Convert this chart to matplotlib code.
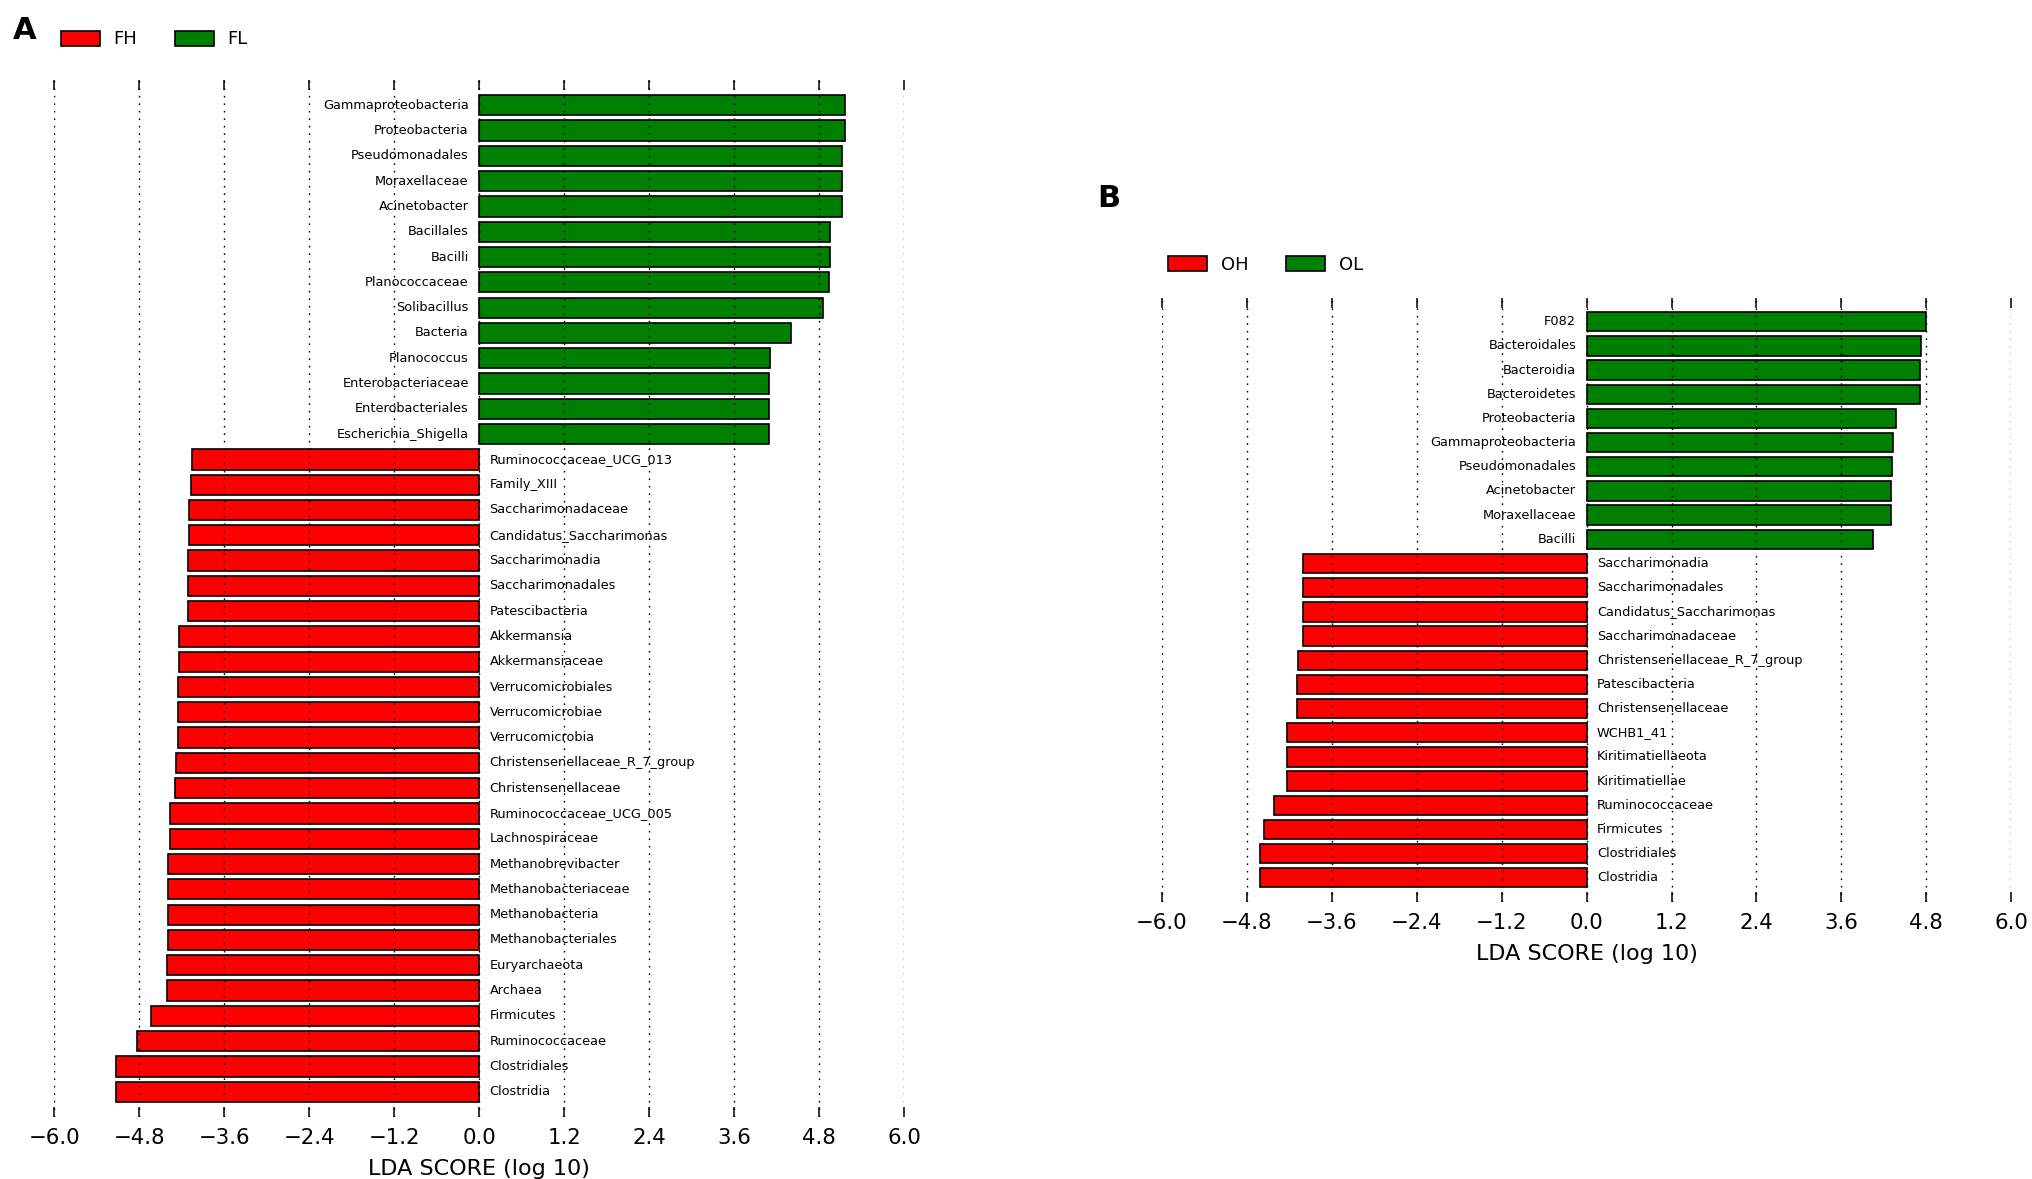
import matplotlib
matplotlib.use("Agg")
import matplotlib.pyplot as plt
from matplotlib.patches import Patch
import numpy as np

# ---------------- data ----------------
names_A = ["Gammaproteobacteria", "Proteobacteria", "Pseudomonadales", "Moraxellaceae",
           "Acinetobacter", "Bacillales", "Bacilli", "Planococcaceae", "Solibacillus",
           "Bacteria", "Planococcus", "Enterobacteriaceae", "Enterobacteriales",
           "Escherichia_Shigella",
           "Ruminococcaceae_UCG_013", "Family_XIII", "Saccharimonadaceae",
           "Candidatus_Saccharimonas", "Saccharimonadia", "Saccharimonadales",
           "Patescibacteria", "Akkermansia", "Akkermansiaceae", "Verrucomicrobiales",
           "Verrucomicrobiae", "Verrucomicrobia", "Christensenellaceae_R_7_group",
           "Christensenellaceae", "Ruminococcaceae_UCG_005", "Lachnospiraceae",
           "Methanobrevibacter", "Methanobacteriaceae", "Methanobacteria",
           "Methanobacteriales", "Euryarchaeota", "Archaea", "Firmicutes",
           "Ruminococcaceae", "Clostridiales", "Clostridia"]
lda_A = [5.17, 5.16, 5.12, 5.12, 5.12, 4.96, 4.96, 4.94, 4.85, 4.41, 4.11, 4.09, 4.09, 4.09,
         -4.06, -4.07, -4.10, -4.10, -4.11, -4.11, -4.11, -4.24, -4.24, -4.25, -4.25, -4.25,
         -4.28, -4.29, -4.36, -4.37, -4.39, -4.40, -4.40, -4.40, -4.41, -4.41, -4.64,
         -4.83, -5.13, -5.13]
groups_A = ["FH", "FL"]

names_B = ["F082", "Bacteroidales", "Bacteroidia", "Bacteroidetes", "Proteobacteria",
           "Gammaproteobacteria", "Pseudomonadales", "Acinetobacter", "Moraxellaceae",
           "Bacilli",
           "Saccharimonadia", "Saccharimonadales", "Candidatus_Saccharimonas",
           "Saccharimonadaceae", "Christensenellaceae_R_7_group", "Patescibacteria",
           "Christensenellaceae", "WCHB1_41", "Kiritimatiellaeota", "Kiritimatiellae",
           "Ruminococcaceae", "Firmicutes", "Clostridiales", "Clostridia"]
lda_B = [4.80, 4.73, 4.71, 4.71, 4.37, 4.33, 4.31, 4.30, 4.30, 4.05,
         -4.01, -4.01, -4.01, -4.01, -4.08, -4.09, -4.09, -4.23, -4.23, -4.23,
         -4.41, -4.55, -4.61, -4.61]
groups_B = ["OH", "OL"]

xticks = [-6.0, -4.8, -3.6, -2.4, -1.2, 0.0, 1.2, 2.4, 3.6, 4.8, 6.0]
xlabel = "LDA SCORE (log 10)"

# ---------------- style ----------------
RED = (1.0, 0.0, 0.0)
GREEN = (0.0, 0.5, 0.0)
W, H = 2033, 1179
DPI = 100

fig = plt.figure(figsize=(W / DPI, H / DPI), dpi=DPI)
fig.patch.set_facecolor("white")


def px_axes(left, top, right, bottom):
    return fig.add_axes([left / W, 1 - bottom / H, (right - left) / W, (bottom - top) / H])


def draw_panel(ax, names, values, groups):
    n = len(names)
    ypos = np.arange(n)[::-1]
    vals = np.array(values)
    colors = [GREEN if v > 0 else RED for v in vals]
    ax.barh(ypos, vals, height=0.8, color=colors, edgecolor="black", linewidth=1.2,
            zorder=1)
    for y, v, name in zip(ypos, vals, names):
        if v > 0:
            ax.annotate(name, xy=(0, y), xytext=(-7.5, 0), textcoords="offset points",
                        ha="right", va="center", fontsize=9.3, zorder=3)
        else:
            ax.annotate(name, xy=(0, y), xytext=(7.5, 0), textcoords="offset points",
                        ha="left", va="center", fontsize=9.3, zorder=3)
    ax.set_xlim(xticks[0], xticks[-1])
    ax.set_ylim(-1, n)
    ax.set_xticks(xticks)
    ax.set_xticklabels(["%.1f" % t if t >= 0 else "\u2212%.1f" % abs(t) for t in xticks],
                       fontsize=15.3)
    ax.set_yticks([])
    for s in ax.spines.values():
        s.set_visible(False)
    ax.tick_params(axis="x", which="major", direction="in", length=7, width=1.1,
                   top=True, bottom=True, pad=8, color="black")
    ax.xaxis.grid(True, color="black", linestyle=(0, (1.2, 4.2)), linewidth=1.0,
                  zorder=2)
    ax.set_axisbelow(False)
    ax.set_xlabel(xlabel, fontsize=16, labelpad=7.5)
    ax.patch.set_alpha(0)


axA = px_axes(54.3, 80, 904.0, 1117)
draw_panel(axA, names_A, lda_A, groups_A)

axB = px_axes(1161.7, 297.5, 2011.4, 902)
draw_panel(axB, names_B, lda_B, groups_B)


def legend(groups, x, y):
    handles = [Patch(facecolor=RED, edgecolor="black", linewidth=1.2, label=groups[0]),
               Patch(facecolor=GREEN, edgecolor="black", linewidth=1.2, label=groups[1])]
    fig.legend(handles=handles, loc="center left", bbox_to_anchor=(x / W, 1 - y / H),
               bbox_transform=fig.transFigure, ncol=2, frameon=False, fontsize=13,
               borderpad=0, borderaxespad=0, handlelength=2.16, handleheight=0.9,
               handletextpad=0.75, columnspacing=2.1)


legend(groups_A, 61, 39.5)
legend(groups_B, 1168, 264.5)

fig.text(13 / W, 1 - 39 / H, "A", fontsize=22, fontweight="bold", va="baseline", ha="left")
fig.text(1097 / W, 1 - 207 / H, "B", fontsize=22, fontweight="bold", va="baseline", ha="left")

fig.savefig("out.png", dpi=DPI, facecolor="white")
